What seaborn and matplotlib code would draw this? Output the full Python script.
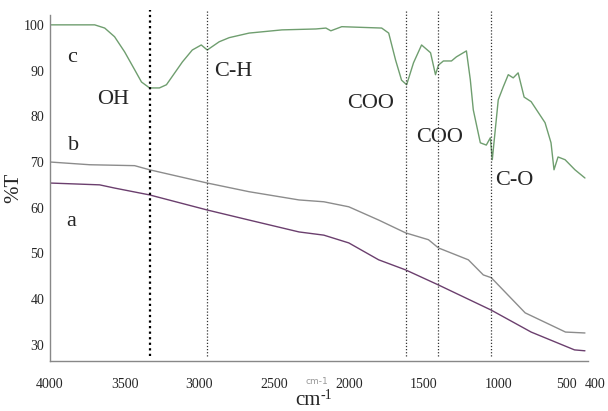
import pandas as pd
import seaborn as sns
import matplotlib.pyplot as plt
from matplotlib.transforms import ScaledTranslation

# spectrum c (green)
c_wn = [4000, 3700, 3633, 3567, 3500, 3433, 3387, 3333, 3267, 3220, 3113, 3047, 2987, 2947,
        2867, 2800, 2667, 2447, 2220, 2153, 2120, 2047, 1780, 1733, 1687, 1647, 1613, 1567,
        1513, 1453, 1420, 1400, 1367, 1313, 1280, 1213, 1187, 1167, 1120, 1080, 1053, 1040,
        1000, 967, 933, 900, 867, 827, 780, 687, 647, 627, 600, 553, 487, 420]
c_t = [100, 100, 99.3, 97.4, 94.1, 90.2, 87.5, 86.2, 86.2, 86.9, 91.9, 94.5, 95.6, 94.5,
       96.3, 97.2, 98.2, 98.9, 99.1, 99.3, 98.7, 99.6, 99.3, 98.2, 92.3, 87.9, 86.9, 91.7,
       95.6, 93.9, 89.1, 91.2, 92.1, 92.1, 93.0, 94.3, 88.0, 81.4, 74.2, 73.7, 75.3, 70.5,
       83.6, 86.4, 89.1, 88.4, 89.5, 84.2, 83.2, 78.6, 74.2, 68.3, 71.1, 70.5, 68.3, 66.5]

# spectrum b (gray)
b_wn = [4000, 3733, 3433, 3333, 2947, 2667, 2333, 2167, 2000, 1800, 1620, 1467, 1400, 1200,
        1100, 1047, 820, 550, 420]
b_t = [70.0, 69.4, 69.2, 68.3, 65.4, 63.5, 61.7, 61.3, 60.2, 57.3, 54.5, 53.0, 51.2, 48.6,
       45.3, 44.7, 37.0, 32.8, 32.6]

# spectrum a (purple)
a_wn = [4000, 3667, 3567, 3333, 2947, 2667, 2333, 2167, 2000, 1800, 1620, 1400, 1047, 780,
        490, 420]
a_t = [65.4, 65.0, 64.3, 62.8, 59.5, 57.3, 54.7, 54.0, 52.3, 48.6, 46.4, 43.1, 37.6, 32.8,
       28.9, 28.7]

peaks = [3333, 2947, 1620, 1400, 1047]
xticks = [4000, 3500, 3000, 2500, 2000, 1500, 1000, 500, 400]
yticks = [30, 40, 50, 60, 70, 80, 90, 100]

sns.set_style('white')
plt.rcParams['font.family'] = ['Liberation Serif', 'DejaVu Serif']

fig = plt.figure(figsize=(6.08, 4.11), dpi=100)
ax = fig.add_axes([0.082, 0.122, 0.885, 0.842])

sns.lineplot(x=c_wn, y=c_t, ax=ax, color='#6f9e6f', lw=1, estimator=None, sort=False)
sns.lineplot(x=b_wn, y=b_t, ax=ax, color='#8c8c8c', lw=1, estimator=None, sort=False)
sns.lineplot(x=a_wn, y=a_t, ax=ax, color='#6b3f6e', lw=1, estimator=None, sort=False)

# assignment lines
for i, p in enumerate(peaks):
    if i == 0:
        ax.vlines(p, 27.6, 103.3, colors='black', linestyles=(0, (1, 1.5)), lw=1.6, clip_on=False)
    else:
        ax.vlines(p, 27.6, 103.3, colors='#333333', linestyles=(0, (1, 1.5)), lw=0.9, clip_on=False)

ax.set_xlim(4000, 400)
ax.set_ylim(26.5, 102.2)
ax.set_xticks(xticks)
ax.set_xticklabels([str(t) for t in xticks], fontsize=10)
ax.set_yticks(yticks)
ax.set_yticklabels([str(t) for t in yticks], fontsize=10)
ax.tick_params(axis='x', length=0, pad=12)
ax.tick_params(axis='y', length=0, pad=4)
# 500 and 400 sit close together, push them apart a little
xl = ax.get_xticklabels()
xl[-2].set_transform(xl[-2].get_transform() + ScaledTranslation(-5 / 72, 0, fig.dpi_scale_trans))
xl[-1].set_transform(xl[-1].get_transform() + ScaledTranslation(5 / 72, 0, fig.dpi_scale_trans))
sns.despine(ax=ax)
for s in ['left', 'bottom']:
    ax.spines[s].set_color('#888888')
    ax.spines[s].set_linewidth(1)

ax.set_ylabel('%T', fontsize=15, labelpad=0)
# axis unit written as "cm" with a raised "-1"
fig.text(0.4852, 0.014, 'cm', fontsize=15, ha='left', va='baseline')
fig.text(0.527, 0.030, '-1', fontsize=10, ha='left', va='baseline')
fig.text(0.521, 0.072, 'cm-1', fontsize=6.5, color='#999999', family='DejaVu Sans',
         ha='center', va='center')

lab = dict(fontsize=16, ha='left', va='center')
ax.text(3887, 92.8, 'c', **lab)
ax.text(3880, 73.7, 'b', **lab)
ax.text(3887, 56.9, 'a', **lab)
ax.text(3687, 83.6, 'OH', **lab)
ax.text(2900, 89.7, 'C-H', **lab)
ax.text(2013, 82.9, 'COO', **lab)
ax.text(1547, 75.3, 'COO', **lab)
ax.text(1020, 66.0, 'C-O', **lab)

fig.savefig('out.png', dpi=100)
